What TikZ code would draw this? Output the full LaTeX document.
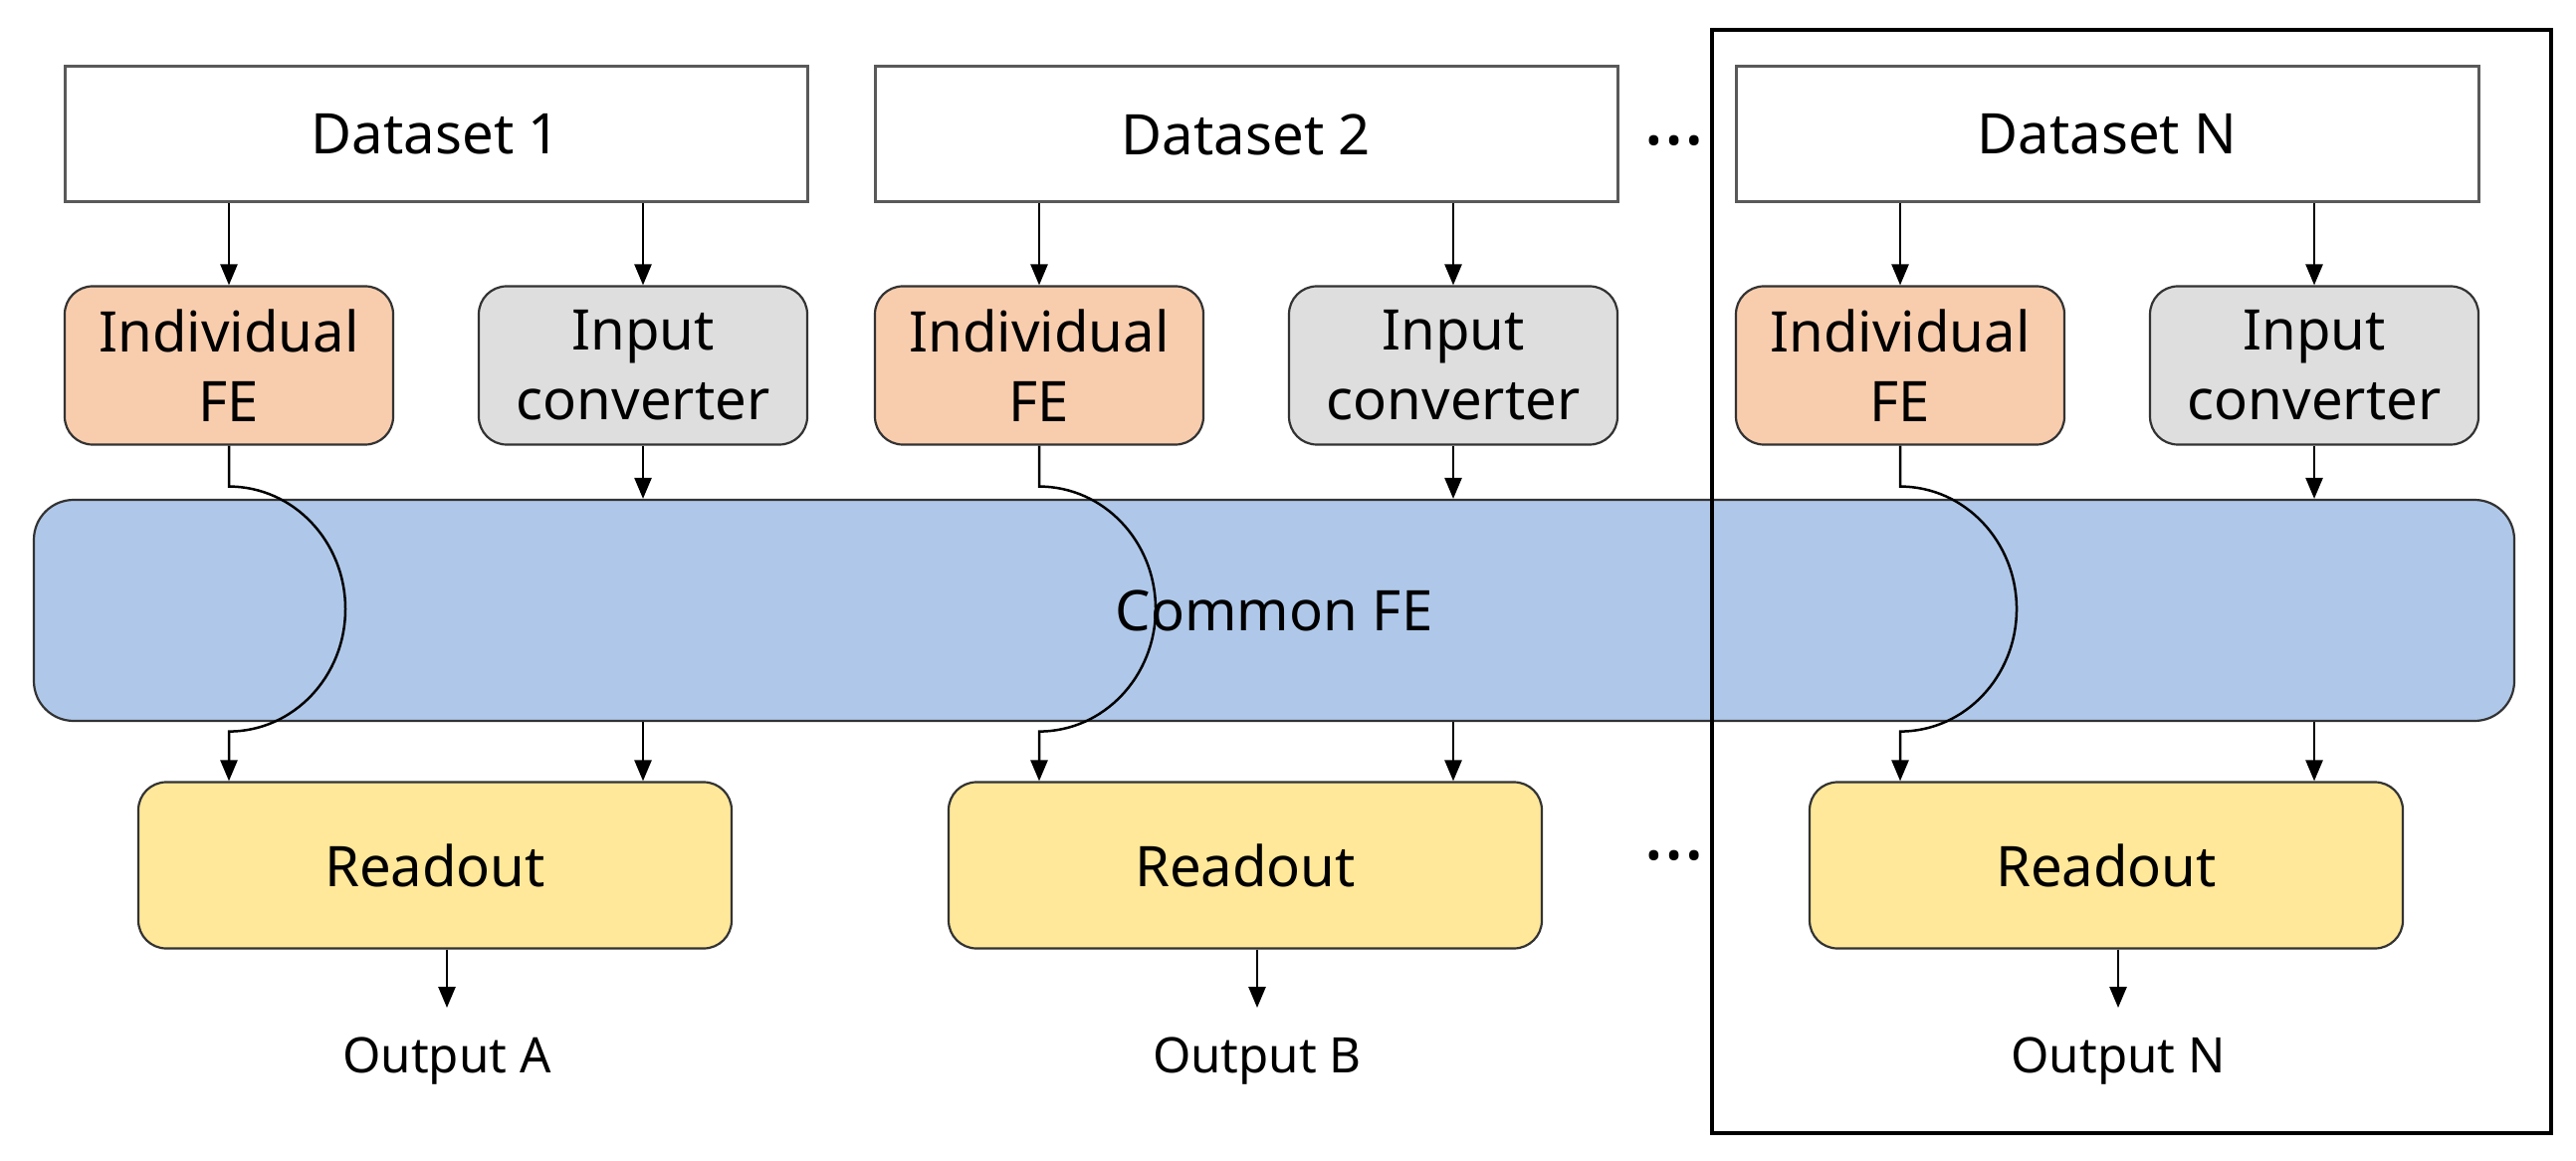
\documentclass[tikz,border=0pt]{standalone}
\usepackage{fontspec}
\setmainfont{Noto Sans}
\usetikzlibrary{arrows.meta}

\definecolor{peach}{HTML}{F8CDAE}
\definecolor{lgray}{HTML}{DEDEDE}
\definecolor{lblue}{HTML}{AFC8E9}
\definecolor{lyellow}{HTML}{FFE899}
\definecolor{edge}{HTML}{333333}
\definecolor{dsedge}{HTML}{595959}

\begin{document}
\begin{tikzpicture}[x=0.1mm, y=-0.1mm, >={Triangle[length=2.1mm, width=1.7mm]},
    line width=0.25mm,
    mainfont/.style={font=\fontsize{16}{20}\selectfont},
    dsbox/.style={mainfont, draw=dsedge, line width=0.3mm, fill=white,
        minimum width=74.6mm, minimum height=13.6mm, inner sep=0pt},
    febox/.style={mainfont, draw=edge, line width=0.22mm, fill=peach, rounded corners=2.8mm,
        align=center, minimum width=33mm, minimum height=15.9mm, inner sep=0pt},
    convbox/.style={febox, fill=lgray},
    commonbox/.style={mainfont, draw=edge, line width=0.22mm, fill=lblue, rounded corners=4mm,
        minimum width=249.2mm, minimum height=22.2mm, inner sep=0pt},
    readbox/.style={mainfont, draw=edge, line width=0.22mm, fill=lyellow, rounded corners=2.8mm,
        minimum width=59.6mm, minimum height=16.7mm, inner sep=0pt},
    outlabel/.style={font=\fontsize{14}{17}\selectfont, inner sep=2.8mm, anchor=base},
    dots/.style={font=\fontsize{22}{26}\selectfont\bfseries, anchor=base, inner sep=0pt}]

    % 1. Vùng hiển thị
    \useasboundingbox (0,0) rectangle (2588,1166);

    % 2. Khối Common FE
    \node[commonbox] (cfe) at (1280,613) {Common FE};

    % 3. Các cột: Dataset -> Individual FE / Input converter -> Readout -> Output
    \foreach \i/\bx/\ds/\out in {1/65/1/A, 2/879/2/B, 3/1744/N/N} {
        \node[dsbox] (ds\i) at (\bx+373,135) {Dataset \ds};
        \node[febox] (ife\i) at (\bx+165,367) {Individual\\FE};
        \node[convbox] (ic\i) at (\bx+581,367) {Input\\converter};
        \node[readbox] (ro\i) at (\bx+372,869) {Readout};
        \node[outlabel] (out\i) at (\bx+384,1077) {Output \out};

        % mũi tên từ Dataset xuống
        \draw[->] (ds\i.south -| ife\i.north) -- (ife\i.north);
        \draw[->] (ds\i.south -| ic\i.north) -- (ic\i.north);
        % Input converter -> Common FE -> Readout
        \draw[->] (ic\i.south) -- (ic\i.south |- cfe.north);
        \draw[->] (ic\i.south |- cfe.south) -- (ic\i.south |- ro\i.north);
        % Individual FE vòng qua Common FE
        \draw[->] (ife\i.south) -- ++(0,41)
            arc[start angle=-90, end angle=90, x radius=117, y radius=123]
            -- (ife\i.south |- ro\i.north);
        % Readout -> Output
        \draw[->] (ro\i.south -| out\i.north) -- (out\i.north);
    }

    % 4. Dấu ba chấm
    \node[dots] (dtop) at (1682,146) {…};
    \node[dots] (dbot) at (1682,863) {…};

    % 5. Khung bao cột N
    \draw[line width=0.4mm, black] (1720,30) rectangle (2563,1138);

\end{tikzpicture}
\end{document}
